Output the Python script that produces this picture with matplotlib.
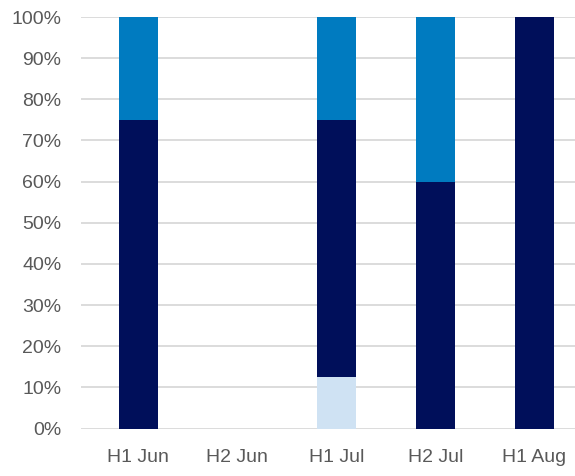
import numpy as np
import matplotlib.pyplot as plt
from matplotlib.ticker import PercentFormatter

categories = ['H1 Jun', 'H2 Jun', 'H1 Jul', 'H2 Jul', 'H1 Aug']
light = [0, 0, 12.5, 0, 0]
dark = [75, 0, 62.5, 60, 100]
medium = [25, 0, 25, 40, 0]

plt.rcParams['font.family'] = ['Liberation Sans', 'DejaVu Sans']

fig = plt.figure(figsize=(5.75, 4.76), dpi=100)
ax = fig.add_axes([81 / 575, 47.5 / 476, 1 - 81 / 575, 411.5 / 476])

x = np.arange(len(categories))
w = 0.395
light = np.array(light)
dark = np.array(dark)
medium = np.array(medium)
ax.bar(x, light, w, color='#cfe2f3', zorder=3)
ax.bar(x, dark, w, bottom=light, color='#000f5a', zorder=3)
ax.bar(x, medium, w, bottom=light + dark, color='#007bc0', zorder=3)

ax.set_xlim(-0.58, 4.41)
ax.set_ylim(0, 100)
ax.set_yticks(np.arange(0, 101, 10))
ax.yaxis.set_major_formatter(PercentFormatter(decimals=0))
ax.set_xticks(x)
ax.set_xticklabels(categories)
ax.grid(axis='y', color='#d9d9d9', linewidth=1.3, zorder=0)
for s in ax.spines.values():
    s.set_visible(False)
ax.tick_params(length=0, labelsize=14, colors='#595959')
ax.tick_params(axis='x', pad=15)
ax.tick_params(axis='y', pad=14)

fig.savefig('out.png', dpi=100)
